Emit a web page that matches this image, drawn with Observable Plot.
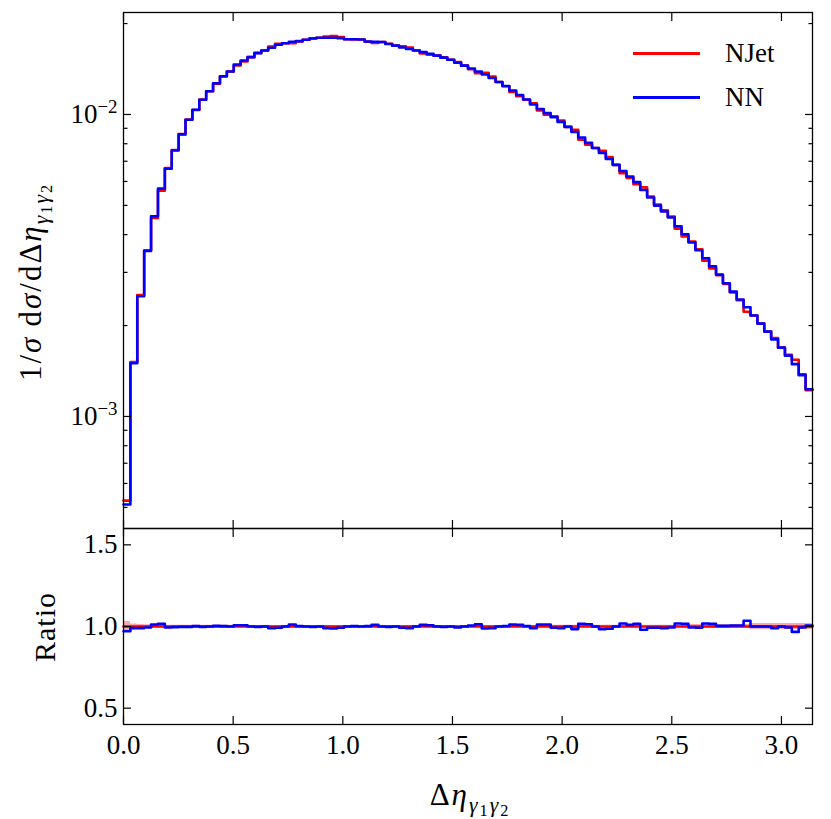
<!DOCTYPE html>
<html>
<head>
<meta charset="utf-8">
<script src="https://cdn.jsdelivr.net/npm/d3@7"></script>
<script src="https://cdn.jsdelivr.net/npm/@observablehq/plot@0.6"></script>
<style>
  html, body { margin: 0; padding: 0; background: #fff; }
  #fig { position: relative; width: 831px; height: 819px; color: #000;
         font-family: "Times New Roman", "Liberation Serif", Tinos, "Noto Serif", "DejaVu Serif", FreeSerif, serif; }
  #fig svg { position: absolute; left: 0; background: transparent; overflow: visible; }
  .lab { position: absolute; white-space: nowrap; font-size: 27px; line-height: 1;
         font-family: "Times New Roman", "Liberation Serif", Tinos, "Noto Serif", "DejaVu Serif", FreeSerif, serif; }
  .lab sub { font-size: 0.7em; vertical-align: -0.3em; line-height: 0; }
  .lab sub sub { font-size: 0.75em; vertical-align: -0.25em; }
</style>
</head>
<body>
<div id="fig"></div>
<script>
// ---- data ----
const nBins = 100;
const xMax = Math.PI;
// NN distribution, 1/sigma dsigma/dDeltaEta per bin
const nnValues = [
  5.11e-4, 1.50e-3, 2.50e-3, 3.53e-3, 4.60e-3, 5.68e-3, 6.61e-3, 7.60e-3, 8.59e-3, 9.60e-3,
  1.037e-2, 1.119e-2, 1.194e-2, 1.269e-2, 1.339e-2, 1.388e-2, 1.464e-2, 1.509e-2, 1.548e-2, 1.596e-2,
  1.629e-2, 1.663e-2, 1.701e-2, 1.722e-2, 1.741e-2, 1.749e-2, 1.768e-2, 1.785e-2, 1.795e-2, 1.795e-2,
  1.795e-2, 1.790e-2, 1.775e-2, 1.775e-2, 1.771e-2, 1.745e-2, 1.741e-2, 1.737e-2, 1.712e-2, 1.690e-2,
  1.667e-2, 1.648e-2, 1.629e-2, 1.608e-2, 1.589e-2, 1.566e-2, 1.542e-2, 1.518e-2, 1.483e-2, 1.451e-2,
  1.420e-2, 1.388e-2, 1.357e-2, 1.321e-2, 1.281e-2, 1.243e-2, 1.201e-2, 1.160e-2, 1.121e-2, 1.079e-2,
  1.043e-2, 1.010e-2, 9.79e-3, 9.45e-3, 9.10e-3, 8.75e-3, 8.39e-3, 8.05e-3, 7.74e-3, 7.46e-3,
  7.12e-3, 6.81e-3, 6.50e-3, 6.23e-3, 5.97e-3, 5.62e-3, 5.31e-3, 4.99e-3, 4.77e-3, 4.56e-3,
  4.26e-3, 4.01e-3, 3.77e-3, 3.55e-3, 3.34e-3, 3.14e-3, 2.95e-3, 2.76e-3, 2.59e-3, 2.44e-3,
  2.30e-3, 2.16e-3, 2.03e-3, 1.91e-3, 1.80e-3, 1.69e-3, 1.59e-3, 1.49e-3, 1.37e-3, 1.23e-3
];
// Ratio NN / NJet per bin
const ratioValues = [
  0.971, 0.990, 0.990, 0.994, 1.012, 1.016, 0.994, 0.996, 0.998, 0.998,
  1.002, 0.998, 1.000, 1.004, 1.002, 1.000, 1.008, 1.008, 1.000, 0.998,
  1.000, 0.990, 0.992, 1.000, 1.012, 1.002, 1.000, 0.998, 1.000, 0.990,
  0.988, 0.992, 1.000, 1.002, 1.000, 1.002, 1.010, 1.000, 0.998, 1.000,
  0.992, 0.990, 1.000, 1.010, 1.008, 1.000, 0.998, 1.000, 0.994, 1.000,
  1.006, 1.014, 0.988, 0.990, 1.000, 1.002, 1.012, 1.010, 1.002, 0.990,
  1.012, 1.012, 0.992, 0.990, 1.000, 0.984, 1.016, 1.014, 1.000, 0.984,
  0.986, 1.000, 1.018, 1.010, 1.016, 0.980, 0.992, 0.992, 0.990, 0.994,
  1.018, 1.016, 0.994, 0.992, 1.018, 1.016, 1.004, 1.004, 1.006, 1.006,
  1.035, 1.000, 1.000, 1.000, 0.990, 1.000, 0.994, 0.967, 0.994, 1.006
];
// NJet relative uncertainty band per bin
const njetRelErr = [
  0.030, 0.015, 0.012, 0.010, 0.010, 0.010, 0.008, 0.008, 0.008, 0.008,
  0.008, 0.008, 0.008, 0.008, 0.008, 0.008, 0.006, 0.006, 0.006, 0.006,
  0.006, 0.006, 0.006, 0.006, 0.006, 0.006, 0.006, 0.006, 0.006, 0.006,
  0.006, 0.006, 0.006, 0.006, 0.006, 0.006, 0.006, 0.006, 0.006, 0.006,
  0.006, 0.006, 0.006, 0.006, 0.006, 0.006, 0.006, 0.006, 0.006, 0.006,
  0.006, 0.006, 0.006, 0.006, 0.006, 0.006, 0.006, 0.006, 0.006, 0.006,
  0.006, 0.008, 0.008, 0.008, 0.008, 0.008, 0.008, 0.008, 0.008, 0.008,
  0.008, 0.008, 0.008, 0.008, 0.008, 0.008, 0.008, 0.008, 0.008, 0.008,
  0.008, 0.012, 0.012, 0.012, 0.012, 0.012, 0.012, 0.012, 0.012, 0.012,
  0.012, 0.018, 0.018, 0.018, 0.018, 0.018, 0.018, 0.018, 0.018, 0.018
];
const xTicks = [0, 0.5, 1.0, 1.5, 2.0, 2.5, 3.0];
const yMajor = [1e-3, 1e-2];
const yMinor = [5e-4, 6e-4, 7e-4, 8e-4, 9e-4, 2e-3, 3e-3, 4e-3, 5e-3, 6e-3, 7e-3, 8e-3, 9e-3, 2e-2];
const ratioTicks = [0.5, 1.0, 1.5];
const seriesNames = ["NJet", "NN"];
const colors = { NJet: "#ff0000", NN: "#0000ff" };

// ---- derived tables ----
const edges = d3.range(nBins + 1).map(i => i * xMax / nBins);
const njetValues = nnValues.map((v, i) => v / ratioValues[i]);
const steps = vals => vals.map((v, i) => ({ x: edges[i], y: v })).concat([{ x: edges[nBins], y: vals[nBins - 1] }]);
const njetPts = steps(njetValues);
const nnPts = steps(nnValues);
const onePts = steps(njetValues.map((v) => v / v));
const ratioPts = steps(ratioValues);
const bandPts = steps(njetRelErr).map(d => ({ x: d.x, lo: 1 - d.y, hi: 1 + d.y }));

const W = 831;
const FONT = '"Times New Roman", "Liberation Serif", Tinos, "Noto Serif", "DejaVu Serif", FreeSerif, serif';
const common = {
  width: W, marginLeft: 123, marginRight: 19,
  style: { fontFamily: FONT, fontSize: "27px", color: "#000", background: "transparent", overflow: "visible" }
};
const xOpts = { type: "linear", domain: [0, xMax] };
const tickStroke = { stroke: "#000", strokeWidth: 1.2, fill: "none", label: null };

// ---- top panel ----
const topPlot = Plot.plot({
  ...common,
  height: 530, marginTop: 12, marginBottom: 2,
  x: xOpts,
  y: { type: "log", domain: [4.256e-4, 0.02176] },
  marks: [
    Plot.lineY(njetPts, { x: "x", y: "y", curve: "step-after", stroke: colors.NJet, strokeWidth: 2.6 }),
    Plot.lineY(nnPts, { x: "x", y: "y", curve: "step-after", stroke: colors.NN, strokeWidth: 2.6 }),
    Plot.frame({ stroke: "#000", strokeWidth: 1.3 }),
    Plot.axisX({ anchor: "bottom", ticks: xTicks, tickSize: -8, ...tickStroke }),
    Plot.axisX({ anchor: "top", ticks: xTicks, tickSize: -8, ...tickStroke }),
    Plot.axisY({ anchor: "left", ticks: yMajor, tickSize: -8, ...tickStroke }),
    Plot.axisY({ anchor: "right", ticks: yMajor, tickSize: -8, ...tickStroke }),
    Plot.axisY({ anchor: "left", ticks: yMinor, tickSize: -4.5, ...tickStroke }),
    Plot.axisY({ anchor: "right", ticks: yMinor, tickSize: -4.5, ...tickStroke }),
    Plot.axisY({ anchor: "left", ticks: yMajor, tickSize: 0, tickPadding: 6, stroke: "none", fill: "#000", label: null,
                 tickFormat: d => String(Math.round(Math.log10(d))) })
  ]
});
topPlot.style.top = "0px";

// ---- ratio panel ----
const bottomPlot = Plot.plot({
  ...common,
  height: 292, marginTop: 1, marginBottom: 95,
  x: xOpts,
  y: { type: "linear", domain: [0.4, 1.6] },
  marks: [
    Plot.areaY(bandPts, { x: "x", y1: "lo", y2: "hi", curve: "step-after", fill: colors.NJet, fillOpacity: 0.35 }),
    Plot.lineY(onePts, { x: "x", y: "y", curve: "step-after", stroke: colors.NJet, strokeWidth: 2.6 }),
    Plot.lineY(ratioPts, { x: "x", y: "y", curve: "step-after", stroke: colors.NN, strokeWidth: 2.6 }),
    Plot.frame({ stroke: "#000", strokeWidth: 1.3 }),
    Plot.axisX({ anchor: "bottom", ticks: xTicks, tickSize: -8, ...tickStroke }),
    Plot.axisX({ anchor: "top", ticks: xTicks, tickSize: -8, ...tickStroke }),
    Plot.axisX({ anchor: "bottom", ticks: xTicks, tickSize: 0, tickPadding: 10, stroke: "none", fill: "#000", label: null,
                 tickFormat: d3.format(".1f") }),
    Plot.axisY({ anchor: "left", ticks: ratioTicks, tickSize: -8, ...tickStroke }),
    Plot.axisY({ anchor: "right", ticks: ratioTicks, tickSize: -8, ...tickStroke }),
    Plot.axisY({ anchor: "left", ticks: ratioTicks, tickSize: 0, tickPadding: 6, stroke: "none", fill: "#000", label: null,
                 tickFormat: d3.format(".1f") })
  ]
});
bottomPlot.style.top = "527px";

const fig = document.getElementById("fig");
fig.appendChild(topPlot);
fig.appendChild(bottomPlot);

// power-of-ten tick labels with superscript exponent
d3.select(topPlot).selectAll('g[aria-label="y-axis tick label"] text').each(function () {
  const exp = this.textContent.replace("-", "\u2212");
  const t = d3.select(this);
  t.text(null);
  t.append("tspan").text("10");
  t.append("tspan").attr("dy", "-0.55em").attr("font-size", "0.7em").text(exp);
});

// ---- labels & legend ----
function addLabel(html, css) {
  const d = document.createElement("div");
  d.className = "lab";
  d.innerHTML = html;
  Object.assign(d.style, css);
  fig.appendChild(d);
  return d;
}
const subG = '<sub><i>γ</i><sub>1</sub><i>γ</i><sub>2</sub></sub>';
addLabel('1/<i>σ</i>&#8202;&#8202;d<i>σ</i>/dΔ<i>η</i>' + subG,
  { left: "31px", top: "282px", fontSize: "31px", letterSpacing: "2px", transform: "translate(-50%,-50%) rotate(-90deg)" });
addLabel('Ratio', { left: "45px", top: "627px", fontSize: "30px", letterSpacing: "1px", transform: "translate(-50%,-50%) rotate(-90deg)" });
addLabel('Δ<i>η</i>' + subG, { left: "470px", top: "795px", fontSize: "31px", letterSpacing: "2px", transform: "translate(-50%,-50%)" });

// legend
const legendY = { NJet: 53, NN: 97 };
seriesNames.forEach(name => {
  const line = document.createElement("div");
  Object.assign(line.style, { position: "absolute", left: "633px", top: (legendY[name] - 1.5) + "px",
    width: "67px", height: "3px", background: colors[name] });
  fig.appendChild(line);
  addLabel(name, { left: "725px", top: legendY[name] + "px", transform: "translateY(-50%)" });
});
</script>
</body>
</html>
